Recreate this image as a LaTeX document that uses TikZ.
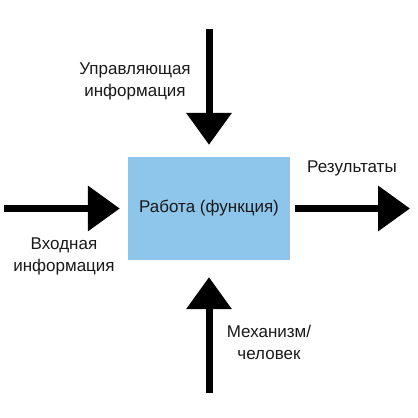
\documentclass[tikz,border=0pt]{standalone}
\usepackage{fontspec}
\setmainfont{Liberation Sans}
\usetikzlibrary{arrows.meta}
\usetikzlibrary{positioning}
\definecolor{boxblue}{RGB}{141,198,234}
\definecolor{inktext}{RGB}{25,25,25}

\begin{document}
\begin{tikzpicture}
  [
    x=1pt,y=1pt,
    work/.style={
      fill=boxblue,
      minimum width=162pt,
      minimum height=103pt,
      inner sep=0pt
    },
    flow/.style={-{Triangle[length=32pt,width=44pt]},line width=7pt},
    tag/.style={align=center,text=inktext,inner sep=0pt,
      font=\fontsize{17}{22}\selectfont},
  ]
    \useasboundingbox (0,0) rectangle (418,418);
    % function box
    \node [work,tag] (work) at (209,209.5) {Работа (функция)};
    % free ends
    \coordinate (ctrl) at (209,389);
    \coordinate (input) at (4,209.5);
    \coordinate (output) at (410,209.5);
    \coordinate (mech) at (209,25);
    % arrows
    \draw [flow,shorten >=12pt] (ctrl) -- (work.north);
    \draw [flow,shorten >=8pt] (input) -- (work.west);
    \draw [flow,shorten <=5pt] (work.east) -- (output);
    \draw [flow,shorten >=17pt] (mech) -- (work.south);
    % labels
    \node [tag] (ctrllabel) at (135,337) {Управляющая\\информация};
    \node [tag] (inputlabel) at (64,161.5) {Входная\\информация};
    \node [tag] (outputlabel) at (352,250) {Результаты};
    \node [tag] (mechlabel) at (269,75.5) {Механизм/\\человек};
  \end{tikzpicture}
\end{document}
